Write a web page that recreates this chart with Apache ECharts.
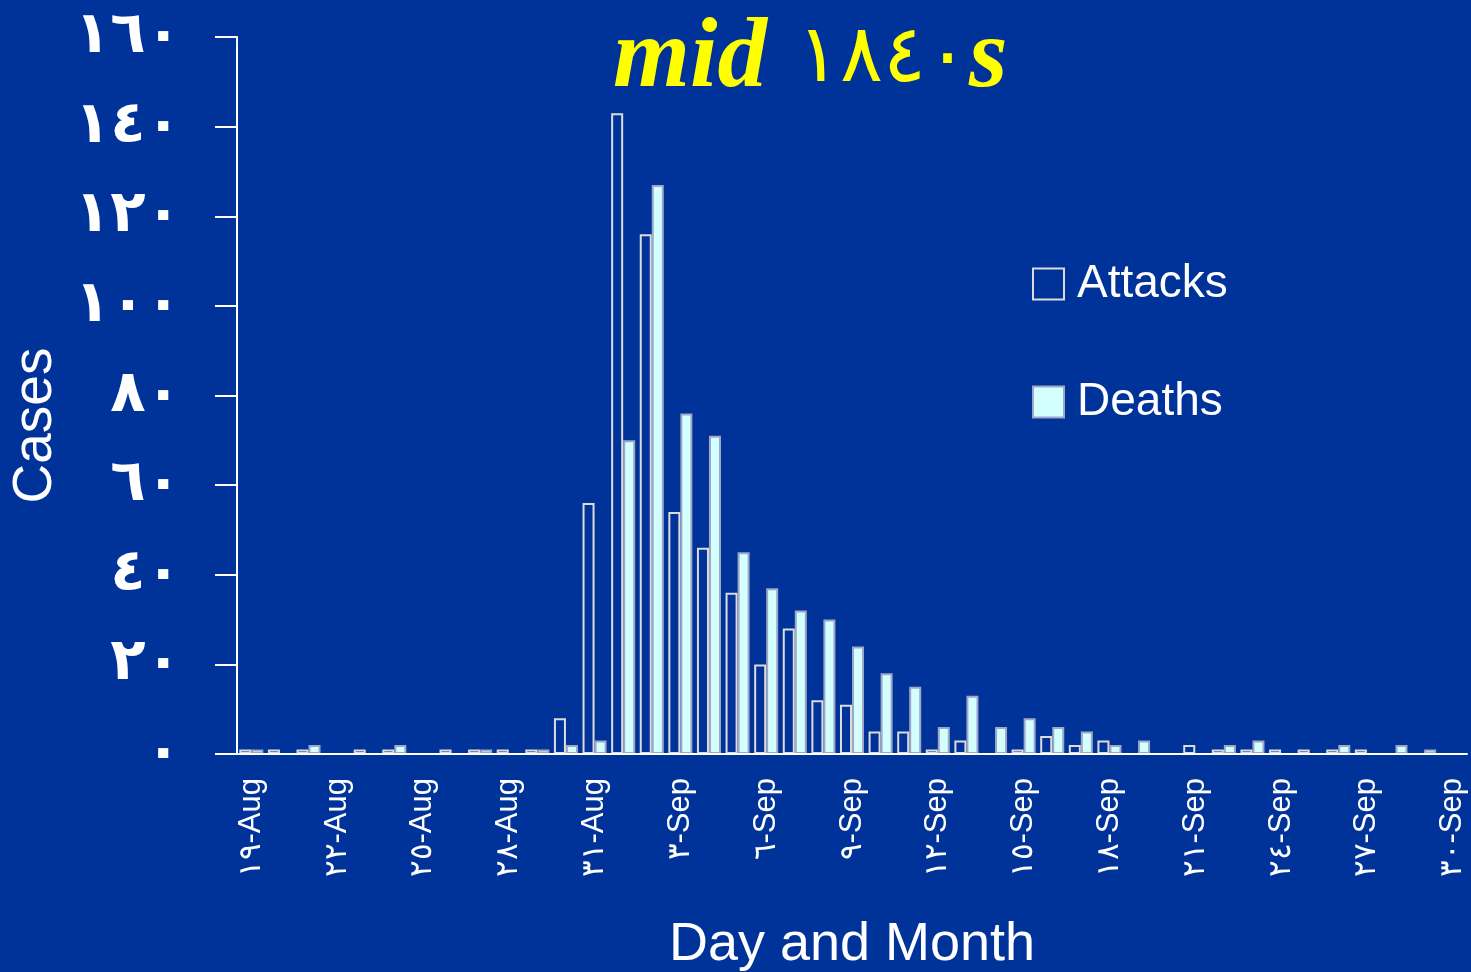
<!DOCTYPE html>
<html>
<head>
<meta charset="utf-8">
<script src="https://cdn.jsdelivr.net/npm/echarts@6/dist/echarts.min.js"></script>
<style>
  html, body { margin: 0; padding: 0; background: #003399; }
  #chart { width: 1471px; height: 972px; }
</style>
</head>
<body>
<div id="chart"></div>
<script>
// Daily cases, 19 Aug – 30 Sep
const days = [
  '١٩-Aug', '٢٠-Aug', '٢١-Aug', '٢٢-Aug', '٢٣-Aug', '٢٤-Aug', '٢٥-Aug', '٢٦-Aug', '٢٧-Aug', '٢٨-Aug',
  '٢٩-Aug', '٣٠-Aug', '٣١-Aug', '١-Sep', '٢-Sep', '٣-Sep', '٤-Sep', '٥-Sep', '٦-Sep', '٧-Sep',
  '٨-Sep', '٩-Sep', '١٠-Sep', '١١-Sep', '١٢-Sep', '١٣-Sep', '١٤-Sep', '١٥-Sep', '١٦-Sep', '١٧-Sep',
  '١٨-Sep', '١٩-Sep', '٢٠-Sep', '٢١-Sep', '٢٢-Sep', '٢٣-Sep', '٢٤-Sep', '٢٥-Sep', '٢٦-Sep', '٢٧-Sep',
  '٢٨-Sep', '٢٩-Sep', '٣٠-Sep'
];
const attacks = [
  1, 1, 1, 0, 1, 1, 0, 1, 1, 1,
  1, 8, 56, 143, 116, 54, 46, 36, 20, 28,
  12, 11, 5, 5, 1, 3, 0, 1, 4, 2,
  3, 0, 0, 2, 1, 1, 1, 1, 1, 1,
  0, 0, 0
];
const deaths = [
  1, 0, 2, 0, 0, 2, 0, 0, 1, 0,
  1, 2, 3, 70, 127, 76, 71, 45, 37, 32,
  30, 24, 18, 15, 6, 13, 6, 8, 6, 5,
  2, 3, 0, 0, 2, 3, 0, 0, 2, 0,
  2, 1, 0
];
const yTickValues = [0, 20, 40, 60, 80, 100, 120, 140, 160];
const yTickLabels = ['٠', '٢٠', '٤٠', '٦٠', '٨٠', '١٠٠', '١٢٠', '١٤٠', '١٦٠'];
const titleWord = 'mid';
const titleYear = '١٨٤٠';
const titleSuffix = 's';

const BG = '#003399';
const chart = echarts.init(document.getElementById('chart'));

chart.setOption({
  backgroundColor: BG,
  animation: false,
  title: {
    text: '{w|' + titleWord + '}{y|' + titleYear + '}{w|' + titleSuffix + '}',
    left: 608,
    top: 6,
    textStyle: {
      rich: {
        w: {
          color: '#ffff00',
          fontFamily: '"Liberation Serif", "DejaVu Serif", serif',
          fontStyle: 'italic',
          fontWeight: 'bold',
          fontSize: 99
        },
        y: {
          color: '#ffff00',
          fontFamily: '"DejaVu Sans", sans-serif',
          fontWeight: 'normal',
          fontSize: 80,
          padding: [0, 0, 0, 30]
        }
      }
    }
  },
  legend: {
    orient: 'vertical',
    left: 1032,
    top: 261,
    itemWidth: 31,
    itemHeight: 31,
    itemGap: 72,
    padding: 0,
    icon: 'rect',
    textStyle: {
      color: '#ffffff',
      fontFamily: '"Liberation Sans", Arial, sans-serif',
      fontSize: 46,
      padding: [0, 0, 0, 8]
    },
    data: ['Attacks', 'Deaths']
  },
  grid: { left: 237, right: 4, top: 37, bottom: 218, containLabel: false, outerBoundsMode: 'none' },
  xAxis: {
    type: 'category',
    data: days,
    z: 5,
    name: 'Day and Month',
    nameLocation: 'middle',
    nameGap: 164,
    nameTextStyle: {
      color: '#ffffff',
      fontFamily: '"Liberation Sans", Arial, sans-serif',
      fontSize: 54
    },
    axisLine: { lineStyle: { color: '#ffffff', width: 2 } },
    axisTick: { interval: 0, length: 9, lineStyle: { color: '#ffffff', width: 2 } },
    axisLabel: {
      interval: 2,
      rotate: 90,
      margin: 24,
      color: '#ffffff',
      fontFamily: '"Liberation Sans", Arial, sans-serif',
      fontSize: 31
    }
  },
  yAxis: {
    type: 'value',
    min: 0,
    max: 160,
    interval: 20,
    z: 5,
    name: 'Cases',
    nameLocation: 'middle',
    nameRotate: 90,
    nameGap: 174,
    nameTextStyle: {
      color: '#ffffff',
      fontFamily: '"Liberation Sans", Arial, sans-serif',
      fontSize: 55,
      padding: [0, 60, 0, 0]
    },
    splitLine: { show: false },
    axisLine: { show: true, lineStyle: { color: '#ffffff', width: 2 } },
    axisTick: { show: true, inside: false, length: 22, lineStyle: { color: '#ffffff', width: 2 } },
    axisLabel: {
      margin: 56,
      color: '#ffffff',
      fontFamily: '"DejaVu Sans", sans-serif',
      fontWeight: 'bold',
      fontSize: 58,
      formatter: v => yTickLabels[yTickValues.indexOf(v)]
    }
  },
  series: [
    {
      name: 'Attacks',
      type: 'bar',
      data: attacks,
      barGap: '0%',
      barCategoryGap: '16%',
      itemStyle: { color: BG, borderColor: '#dcdcdc', borderWidth: 2 }
    },
    {
      name: 'Deaths',
      type: 'bar',
      data: deaths,
      itemStyle: { color: '#d4ffff', borderColor: '#9ea8c6', borderWidth: 2 }
    }
  ]
});
</script>
</body>
</html>
